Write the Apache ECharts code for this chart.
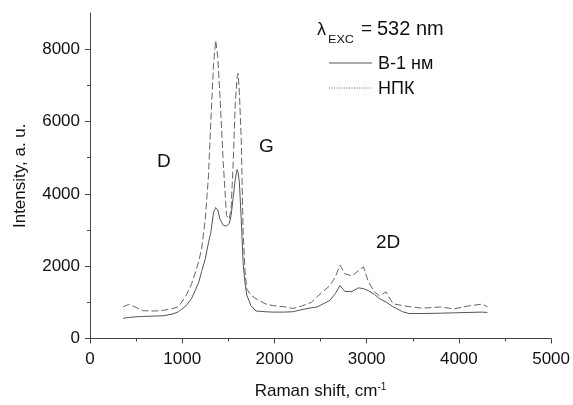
<!DOCTYPE html>
<html>
<head>
<meta charset="utf-8">
<script src="https://cdn.jsdelivr.net/npm/echarts@6/dist/echarts.min.js"></script>
<style>
html,body{margin:0;padding:0;background:#fff;}
#chart{width:573px;height:405px;}
</style>
</head>
<body>
<div id="chart"></div>
<script>
// Raman shift, cm-1
var ramanShift = [360, 420, 500, 570, 700, 800, 900, 960, 1040, 1100, 1145, 1180, 1210, 1250, 1285, 1310, 1340, 1363, 1385, 1410, 1445, 1480, 1510, 1530, 1553, 1575, 1595, 1606, 1620, 1640, 1660, 1680, 1700, 1745, 1800, 1900, 1980, 2100, 2200, 2300, 2400, 2460, 2600, 2660, 2710, 2765, 2840, 2910, 2965, 3020, 3085, 3140, 3210, 3285, 3390, 3460, 3600, 3800, 3950, 4100, 4250, 4310];
// B-1 nm (solid)
var seriesB1 = [560, 580, 600, 610, 620, 630, 680, 740, 900, 1100, 1350, 1560, 1850, 2200, 2650, 2930, 3490, 3620, 3560, 3300, 3130, 3110, 3180, 3400, 3900, 4400, 4670, 4600, 4300, 3300, 2110, 1550, 1200, 910, 760, 740, 730, 730, 740, 800, 850, 870, 1050, 1240, 1460, 1300, 1300, 1400, 1380, 1320, 1220, 1100, 1010, 880, 740, 690, 690, 700, 710, 720, 730, 720];
// NPK (dashed)
var seriesNPK = [880, 940, 860, 770, 760, 780, 830, 880, 1180, 1500, 1840, 2150, 2470, 3300, 4500, 6000, 7600, 8240, 7800, 6680, 4860, 3400, 3300, 3600, 4860, 6500, 7200, 7330, 6800, 5500, 3000, 1900, 1370, 1200, 1100, 960, 910, 880, 830, 900, 1000, 1150, 1460, 1700, 2030, 1790, 1730, 1870, 1980, 1560, 1290, 1180, 1290, 960, 910, 880, 840, 870, 820, 900, 950, 880];
var seriesNames = ['В-1 нм', 'НПК'];
var yMajorTicks = [0, 2000, 4000, 6000, 8000];
var yMinorTicks = [1000, 3000, 5000, 7000];

function pairs(xs, ys) { return xs.map(function (x, i) { return [x, ys[i]]; }); }
function plain(v) { return String(v); }

var chart = echarts.init(document.getElementById('chart'), null, {renderer: 'canvas'});
var font = 'Liberation Sans, Arial, sans-serif';
var axisColor = '#444';
var txt = '#111';
var solidColor = '#555';
var dashColor = '#666';
chart.setOption({
  animation: false,
  backgroundColor: '#fff',
  textStyle: {fontFamily: font},
  grid: {left: 90, right: 16, top: 13, bottom: 65, containLabel: false},
  xAxis: {
    type: 'value', min: 0, max: 5000, interval: 1000,
    name: 'Raman shift, cm{sup|-1}', nameLocation: 'middle', nameGap: 44,
    nameTextStyle: {fontSize: 17, color: txt, fontFamily: font,
      rich: {sup: {fontSize: 10, color: txt, verticalAlign: 'top', padding: [0, 0, 8, 0], fontFamily: font}}},
    axisLine: {lineStyle: {color: axisColor, width: 1}},
    axisTick: {show: true, length: 5, lineStyle: {color: axisColor}},
    minorTick: {show: true, splitNumber: 2, length: 3, lineStyle: {color: axisColor}},
    axisLabel: {fontSize: 17, color: txt, margin: 12, fontFamily: font, formatter: plain},
    splitLine: {show: false}
  },
  yAxis: [{
    type: 'value', min: 0, max: 9000,
    name: 'Intensity, a. u.', nameLocation: 'middle', nameGap: 61,
    nameTextStyle: {fontSize: 17, color: txt, fontFamily: font},
    axisLine: {show: true, lineStyle: {color: axisColor, width: 1}},
    axisTick: {show: true, length: 5, customValues: yMajorTicks, lineStyle: {color: axisColor}},
    axisLabel: {fontSize: 17, color: txt, margin: 10, customValues: yMajorTicks, fontFamily: font, formatter: plain},
    splitLine: {show: false}
  }, {
    type: 'value', min: 0, max: 9000, position: 'left',
    axisLine: {show: false},
    axisTick: {show: true, length: 3, customValues: yMinorTicks, lineStyle: {color: axisColor}},
    axisLabel: {show: false},
    splitLine: {show: false}
  }],
  graphic: [
    {type: 'text', style: {x: 317, y: 30, text: 'λ', fontSize: 18, fill: txt, fontFamily: font, verticalAlign: 'middle'}},
    {type: 'text', style: {x: 328, y: 40, text: 'EXC', fontSize: 11, fill: txt, fontFamily: font, verticalAlign: 'middle'}, scaleX: 1.15, originX: 328},
    {type: 'text', style: {x: 361, y: 29, text: '=', fontSize: 19, fill: txt, fontFamily: font, verticalAlign: 'middle'}},
    {type: 'text', style: {x: 377, y: 29, text: '532 nm', fontSize: 20, fill: txt, fontFamily: font, verticalAlign: 'middle'}},
    {type: 'line', shape: {x1: 329, y1: 63, x2: 372, y2: 63}, style: {stroke: solidColor, lineWidth: 1}},
    {type: 'text', style: {x: 378, y: 64, text: seriesNames[0], fontSize: 18, fill: txt, fontFamily: font, verticalAlign: 'middle'}},
    {type: 'line', shape: {x1: 329, y1: 88, x2: 372, y2: 88}, style: {stroke: dashColor, lineWidth: 1, lineDash: [1, 1.5]}},
    {type: 'text', style: {x: 378, y: 89, text: seriesNames[1], fontSize: 18, fill: txt, fontFamily: font, verticalAlign: 'middle'}},
    {type: 'text', style: {x: 157, y: 162, text: 'D', fontSize: 19, fill: txt, fontFamily: font, verticalAlign: 'middle'}},
    {type: 'text', style: {x: 259, y: 147, text: 'G', fontSize: 19, fill: txt, fontFamily: font, verticalAlign: 'middle'}},
    {type: 'text', style: {x: 376, y: 243, text: '2D', fontSize: 19, fill: txt, fontFamily: font, verticalAlign: 'middle'}}
  ],
  series: [
    {
      name: seriesNames[0], type: 'line', symbol: 'none', showSymbol: false,
      data: pairs(ramanShift, seriesB1),
      lineStyle: {color: solidColor, width: 1, type: 'solid'}
    },
    {
      name: seriesNames[1], type: 'line', symbol: 'none', showSymbol: false,
      data: pairs(ramanShift, seriesNPK),
      lineStyle: {color: dashColor, width: 1, type: [7, 3]}
    }
  ]
});
</script>
</body>
</html>
